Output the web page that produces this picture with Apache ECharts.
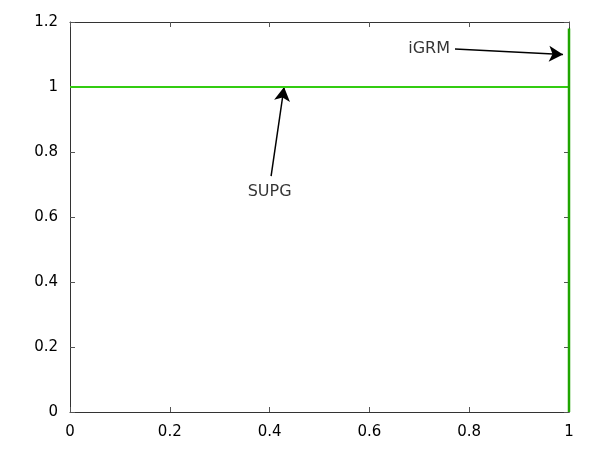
<!DOCTYPE html>
<html><head><meta charset="utf-8">
<script src="https://cdn.jsdelivr.net/npm/echarts@6/dist/echarts.min.js"></script>
<style>html,body{margin:0;padding:0;background:#fff}#c{width:600px;height:450px}</style>
</head><body><div id="c"></div>
<script>
var xTicks = [0, 0.2, 0.4, 0.6, 0.8, 1];
var yTicks = [0, 0.2, 0.4, 0.6, 0.8, 1, 1.2];
var supg = [[0, 1], [1, 1]];
var igrm = [[1, 0], [1, 1.18]];
var annotations = [
  {name: 'SUPG', text: [0.40, 0.676], tail: [0.403, 0.726], head: [0.429, 1.0], align: 'center'},
  {name: 'iGRM', text: [0.7615, 1.117], tail: [0.7715, 1.117], head: [0.988, 1.1], align: 'right'}
];
var chart = echarts.init(document.getElementById('c'), null, {renderer: 'canvas'});
var font = 'DejaVu Sans';
function fmt(v){ return String(Math.round(v*10)/10); }
var axLine = {show: true, onZero: false, lineStyle: {color: '#333', width: 1}};
var tick = {show: true, inside: true, length: 5, lineStyle: {color: '#555'}};
chart.setOption({
  animation: false,
  grid: {left: 70, right: 31, top: 22, bottom: 38},
  xAxis: [
    {type: 'value', min: 0, max: 1, interval: 0.2, position: 'bottom', axisLine: axLine, axisTick: tick,
     splitLine: {show: false}, axisLabel: {color: '#000', fontFamily: font, fontSize: 15, margin: 13, formatter: fmt}},
    {type: 'value', min: 0, max: 1, interval: 0.2, position: 'top', axisLine: axLine, axisTick: tick,
     splitLine: {show: false}, axisLabel: {show: false}}
  ],
  yAxis: [
    {type: 'value', min: 0, max: 1.2, interval: 0.2, position: 'left', axisLine: axLine, axisTick: tick,
     splitLine: {show: false}, axisLabel: {color: '#000', fontFamily: font, fontSize: 15, margin: 12, formatter: fmt}},
    {type: 'value', min: 0, max: 1.2, interval: 0.2, position: 'right', axisLine: axLine, axisTick: tick,
     splitLine: {show: false}, axisLabel: {show: false}}
  ],
  series: [
    {name: 'SUPG', type: 'line', data: supg, symbol: 'none', clip: false, lineStyle: {color: '#33cc11', width: 2}, zlevel: 1, z: 3},
    {name: 'iGRM', type: 'line', data: igrm, symbol: 'none', clip: false, lineStyle: {color: '#1fa500', width: 2.5}, zlevel: 1, z: 4,
     markLine: {
       silent: true, symbol: ['none', 'arrow'], symbolSize: [12, 14],
       lineStyle: {color: '#000', width: 1.5, type: 'solid'}, label: {show: false},
       data: annotations.map(function(a){ return [{coord: a.tail}, {coord: a.head}]; })
     }},
    {type: 'scatter', symbolSize: 0, silent: true, data: annotations.map(function(a){
        return {value: a.text, label: {show: true, formatter: a.name, position: 'inside', align: a.align,
          verticalAlign: 'middle', color: '#000', fontFamily: font, fontSize: 16}};
      }), zlevel: 1, z: 5}
  ]
});
</script></body></html>
